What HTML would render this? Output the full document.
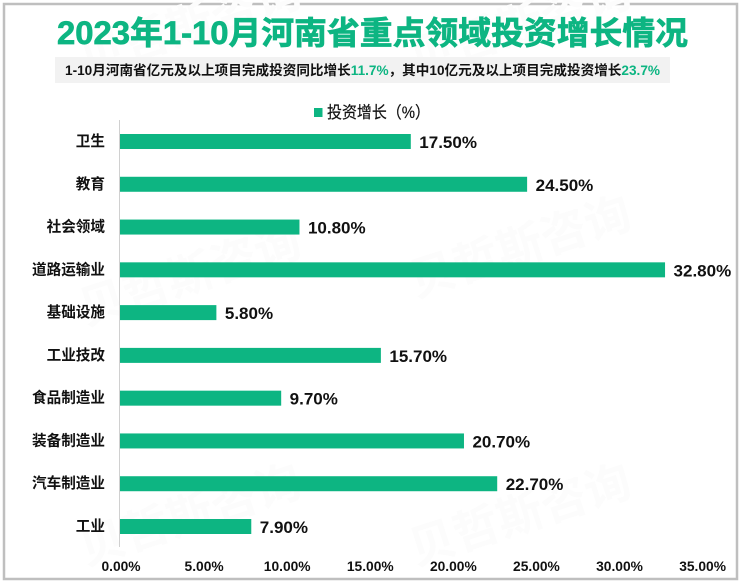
<!DOCTYPE html>
<html lang="zh">
<head>
<meta charset="utf-8">
<title>2023年1-10月河南省重点领域投资增长情况</title>
<style>
html,body{margin:0;padding:0;background:#fff}
svg{display:block;font-family:"Liberation Sans","Noto Sans CJK SC",sans-serif}
</style>
</head>
<body>
<svg id="chart" width="741" height="585" viewBox="0 0 741 585" xmlns="http://www.w3.org/2000/svg">
  <rect x="0" y="0" width="741" height="585" fill="#ffffff"/>
  <rect x="4" y="4" width="733" height="575" fill="none" stroke="#bfbfbf" stroke-width="2.5"/>
  <g id="watermarks"></g>
  <text x="57" y="44" font-size="32" font-weight="700" fill="#0db582" stroke="#0db582" stroke-width="0.7" textLength="631" lengthAdjust="spacingAndGlyphs">2023年1-10月河南省重点领域投资增长情况</text>
  <rect x="55" y="57" width="615" height="26" fill="#f2f2f2"/>
  <text x="65" y="75" font-size="13.5" font-weight="700" fill="#111111" textLength="595" lengthAdjust="spacingAndGlyphs">1-10月河南省亿元及以上项目完成投资同比增长<tspan fill="#0db582">11.7%</tspan>，其中10亿元及以上项目完成投资增长<tspan fill="#0db582">23.7%</tspan></text>
  <rect x="314" y="108" width="8.5" height="9" fill="#0db582"/>
  <text x="327" y="118" font-size="16.5" fill="#111111" stroke="#111111" stroke-width="0.2" textLength="103" lengthAdjust="spacingAndGlyphs">投资增长（%）</text>
  <g id="bars"></g>
  <g id="value-labels"></g>
  <g id="category-labels"></g>
  <line x1="119.5" y1="120" x2="119.5" y2="547" stroke="#d0d0d0" stroke-width="1"/>
  <g id="x-ticks"></g>
</svg>
<script>
const categories = ['卫生','教育','社会领域','道路运输业','基础设施','工业技改','食品制造业','装备制造业','汽车制造业','工业'];
const growthValues = [17.5,24.5,10.8,32.8,5.8,15.7,9.7,20.7,22.7,7.9];
const tickValues = [0,5,10,15,20,25,30,35];
const watermarkCenters = [[195,40],[525,40],[195,290],[525,262],[195,530],[525,530]];

const NS = 'http://www.w3.org/2000/svg';
const plot = {left:120, right:701.6, top:120, bottom:548, max:35, barHeight:15};
function xScale(v){ return plot.left + v / plot.max * (plot.right - plot.left); }
function yScale(i){ return 141.5 + i * (526.5 - 141.5) / (categories.length - 1); }
function make(tag, attrs, text){
  const el = document.createElementNS(NS, tag);
  for (const k in attrs) el.setAttribute(k, attrs[k]);
  if (text !== undefined) el.textContent = text;
  return el;
}
const barsG = document.getElementById('bars');
const valuesG = document.getElementById('value-labels');
const catsG = document.getElementById('category-labels');
const ticksG = document.getElementById('x-ticks');
const wmG = document.getElementById('watermarks');

categories.forEach(function(cat, i){
  const v = growthValues[i];
  const y = yScale(i);
  const bar = make('rect', {x:plot.left, y:y - plot.barHeight / 2, width:xScale(v) - plot.left, height:plot.barHeight, fill:'#0db582'});
  
  
  barsG.appendChild(bar);
  const val = make('text', {x:xScale(v) + 8.5, y:y + 6.5, 'font-size':17, 'font-weight':700, fill:'#111111'}, v.toFixed(2) + '%');
  
  
  valuesG.appendChild(val);
  const lab = make('text', {x:105, y:y + 4.5, 'font-size':14.6, 'font-weight':700, fill:'#111111', 'text-anchor':'end'}, cat);
  
  
  catsG.appendChild(lab);
});
tickValues.forEach(function(t, i){
  const tick = make('text', {x:xScale(t) + 1, y:571, 'font-size':13.8, 'font-weight':700, fill:'#111111', 'text-anchor':'middle'}, t.toFixed(2) + '%');
  
  
  ticksG.appendChild(tick);
});
watermarkCenters.forEach(function(c, i){
  const wm = make('text', {x:c[0], y:c[1], 'font-size':46, 'font-weight':700, fill:'#fcfcfc', 'text-anchor':'middle', transform:'rotate(-18 ' + c[0] + ' ' + c[1] + ')'}, '贝哲斯咨询');
  
  
  wmG.appendChild(wm);
});
</script>
</body>
</html>
